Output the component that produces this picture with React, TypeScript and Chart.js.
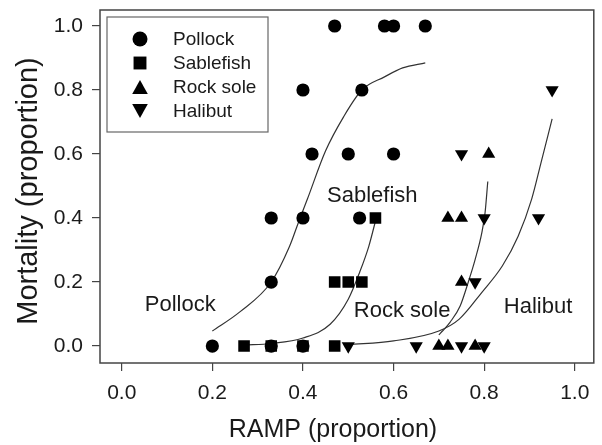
import React, { useEffect, useRef } from 'react';
import { Chart, registerables } from 'chart.js';

Chart.register(...registerables);

const FONT = '"Liberation Sans", Arial, Helvetica, sans-serif';
const INK = '#1a1a1a';
const FRAME = '#444';

const species = ['Pollock', 'Sablefish', 'Rock sole', 'Halibut'];

// Observed mortality vs. RAMP score, one pair of arrays per species
const pollockRamp = [0.47, 0.58, 0.6, 0.67, 0.4, 0.53, 0.42, 0.5, 0.6, 0.33, 0.4, 0.525, 0.33, 0.2, 0.33, 0.4];
const pollockMortality = [1.0, 1.0, 1.0, 1.0, 0.8, 0.8, 0.6, 0.6, 0.6, 0.4, 0.4, 0.4, 0.2, 0.0, 0.0, 0.0];

const sablefishRamp = [0.56, 0.47, 0.5, 0.53, 0.27, 0.33, 0.4, 0.47];
const sablefishMortality = [0.4, 0.2, 0.2, 0.2, 0.0, 0.0, 0.0, 0.0];

const rockSoleRamp = [0.81, 0.72, 0.75, 0.75, 0.7, 0.72, 0.78];
const rockSoleMortality = [0.6, 0.4, 0.4, 0.2, 0.0, 0.0, 0.0];

const halibutRamp = [0.95, 0.75, 0.8, 0.92, 0.78, 0.5, 0.65, 0.75, 0.8];
const halibutMortality = [0.8, 0.6, 0.4, 0.4, 0.2, 0.0, 0.0, 0.0, 0.0];

// Fitted mortality curves
const pollockFitRamp = [0.2, 0.26, 0.33, 0.37, 0.39, 0.41, 0.45, 0.49, 0.53, 0.58, 0.62, 0.67];
const pollockFitMortality = [0.047, 0.106, 0.2, 0.31, 0.386, 0.46, 0.61, 0.717, 0.8, 0.841, 0.869, 0.885];

const sablefishFitRamp = [0.27, 0.33, 0.4, 0.46, 0.5, 0.525, 0.545, 0.56];
const sablefishFitMortality = [0.003, 0.008, 0.025, 0.068, 0.146, 0.23, 0.31, 0.39];

const rockSoleFitRamp = [0.7, 0.708, 0.725, 0.747, 0.765, 0.78, 0.795, 0.802, 0.808];
const rockSoleFitMortality = [0.035, 0.047, 0.075, 0.125, 0.2, 0.27, 0.355, 0.417, 0.514];

const halibutFitRamp = [0.5, 0.6, 0.7, 0.745, 0.795, 0.84, 0.875, 0.905, 0.925, 0.95];
const halibutFitMortality = [0.004, 0.016, 0.047, 0.084, 0.168, 0.25, 0.343, 0.46, 0.57, 0.71];

const xTicks = [0.0, 0.2, 0.4, 0.6, 0.8, 1.0];
const yTicks = [0.0, 0.2, 0.4, 0.6, 0.8, 1.0];

const xTitle = 'RAMP (proportion)';
const yTitle = 'Mortality (proportion)';

// Curve labels, anchored in data units (RAMP, mortality)
const curveLabels = [
  { text: 'Pollock', ramp: 0.129, mortality: 0.128 },
  { text: 'Sablefish', ramp: 0.553, mortality: 0.47 },
  { text: 'Rock sole', ramp: 0.619, mortality: 0.109 },
  { text: 'Halibut', ramp: 0.919, mortality: 0.121 },
];

type Marker = 'circle' | 'square' | 'up' | 'down';
const markers: Marker[] = ['circle', 'square', 'up', 'down'];

const pair = (xs: number[], ys: number[]) => xs.map((x, i) => ({ x, y: ys[i] }));

function drawMarker(ctx: CanvasRenderingContext2D, kind: Marker, cx: number, cy: number, s: number) {
  ctx.beginPath();
  if (kind === 'circle') {
    ctx.arc(cx, cy, s / 2, 0, Math.PI * 2);
  } else if (kind === 'square') {
    const h = s * 0.43;
    ctx.rect(cx - h, cy - h, 2 * h, 2 * h);
  } else if (kind === 'up') {
    const w = s * 0.52;
    ctx.moveTo(cx, cy - s * 0.46);
    ctx.lineTo(cx + w, cy + s * 0.46);
    ctx.lineTo(cx - w, cy + s * 0.46);
    ctx.closePath();
  } else {
    const w = s * 0.52;
    ctx.moveTo(cx, cy + s * 0.46);
    ctx.lineTo(cx + w, cy - s * 0.46);
    ctx.lineTo(cx - w, cy - s * 0.46);
    ctx.closePath();
  }
  ctx.fill();
}

const decorations = {
  id: 'decorations',
  afterDraw(chart: any) {
    const { ctx, chartArea: a, scales } = chart;
    const xs = scales.x;
    const ys = scales.y;
    ctx.save();

    // plot frame
    ctx.strokeStyle = FRAME;
    ctx.lineWidth = 1.5;
    ctx.strokeRect(a.left, a.top, a.right - a.left, a.bottom - a.top);

    // curve labels
    ctx.fillStyle = INK;
    ctx.font = `22px ${FONT}`;
    ctx.textAlign = 'center';
    ctx.textBaseline = 'middle';
    curveLabels.forEach((l) => {
      ctx.fillText(l.text, xs.getPixelForValue(l.ramp), ys.getPixelForValue(l.mortality));
    });

    // legend
    const lx = a.left + 7;
    const ly = a.top + 7;
    ctx.strokeStyle = '#666';
    ctx.lineWidth = 1.2;
    ctx.strokeRect(lx, ly, 161, 115);
    ctx.font = `19px ${FONT}`;
    ctx.textAlign = 'left';
    ctx.textBaseline = 'middle';
    species.forEach((name, i) => {
      const rowY = ly + 22 + i * 24;
      ctx.fillStyle = '#000';
      drawMarker(ctx, markers[i], lx + 33, rowY, 15);
      ctx.fillStyle = INK;
      ctx.fillText(name, lx + 66, rowY + 1);
    });

    // axis titles
    ctx.fillStyle = INK;
    ctx.font = `25px ${FONT}`;
    ctx.textAlign = 'center';
    ctx.textBaseline = 'alphabetic';
    ctx.fillText(xTitle, 333, 437);

    ctx.font = `29px ${FONT}`;
    ctx.translate(37, 191);
    ctx.rotate(-Math.PI / 2);
    ctx.fillText(yTitle, 0, 0);

    ctx.restore();
  },
};

export default function App() {
  const canvasRef = useRef<HTMLCanvasElement | null>(null);

  useEffect(() => {
    const canvas = canvasRef.current;
    if (!canvas) return;

    const pointSet = (label: string, data: any[], style: string, radius: number, rotation = 0) => ({
      label,
      data,
      showLine: false,
      pointStyle: style,
      pointRadius: radius,
      pointRotation: rotation,
      pointBackgroundColor: '#000',
      pointBorderColor: '#000',
      pointBorderWidth: 0,
      order: 1,
    });

    const curveSet = (label: string, data: any[]) => ({
      label,
      data,
      showLine: true,
      pointRadius: 0,
      borderColor: '#333',
      borderWidth: 1.2,
      cubicInterpolationMode: 'monotone',
      fill: false,
      order: 2,
    });

    const chart = new Chart(canvas, {
      type: 'scatter',
      data: {
        datasets: [
          curveSet('Pollock fit', pair(pollockFitRamp, pollockFitMortality)),
          curveSet('Sablefish fit', pair(sablefishFitRamp, sablefishFitMortality)),
          curveSet('Rock sole fit', pair(rockSoleFitRamp, rockSoleFitMortality)),
          curveSet('Halibut fit', pair(halibutFitRamp, halibutFitMortality)),
          pointSet(species[0], pair(pollockRamp, pollockMortality), 'circle', 6.6),
          pointSet(species[1], pair(sablefishRamp, sablefishMortality), 'rect', 8.2),
          pointSet(species[2], pair(rockSoleRamp, rockSoleMortality), 'triangle', 7.6),
          pointSet(species[3], pair(halibutRamp, halibutMortality), 'triangle', 7.6, 180),
        ] as any,
      },
      options: {
        animation: false,
        responsive: false,
        layout: { padding: { top: 10, right: 2, left: 0, bottom: 0 } },
        plugins: { legend: { display: false }, tooltip: { enabled: false } },
        scales: {
          x: {
            type: 'linear',
            min: -0.048,
            max: 1.042,
            afterBuildTicks: (s: any) => {
              s.ticks = xTicks.map((value) => ({ value }));
            },
            afterFit: (s: any) => {
              s.height = 82;
              s.paddingLeft = 0;
              s.paddingRight = 0;
            },
            ticks: {
              font: { family: FONT, size: 21 },
              color: INK,
              padding: 10,
              maxRotation: 0,
              autoSkip: false,
              callback: (v: any) => Number(v).toFixed(1),
            },
            grid: { drawOnChartArea: false, drawTicks: true, tickLength: 8, color: FRAME, lineWidth: 1.2 },
            border: { display: false },
          },
          y: {
            type: 'linear',
            min: -0.053,
            max: 1.05,
            afterBuildTicks: (s: any) => {
              s.ticks = yTicks.map((value) => ({ value }));
            },
            afterFit: (s: any) => {
              s.width = 100;
              s.paddingTop = 0;
              s.paddingBottom = 0;
            },
            ticks: {
              font: { family: FONT, size: 21 },
              color: INK,
              padding: 9,
              autoSkip: false,
              callback: (v: any) => Number(v).toFixed(1),
            },
            grid: { drawOnChartArea: false, drawTicks: true, tickLength: 8, color: FRAME, lineWidth: 1.2 },
            border: { display: false },
          },
        },
      } as any,
      plugins: [decorations],
    });

    return () => chart.destroy();
  }, []);

  return (
    <div style={{ position: 'absolute', left: 0, top: 0, width: 602, height: 445, background: '#fff' }}>
      <canvas ref={canvasRef} width={602} height={445} style={{ display: 'block' }} />
    </div>
  );
}
